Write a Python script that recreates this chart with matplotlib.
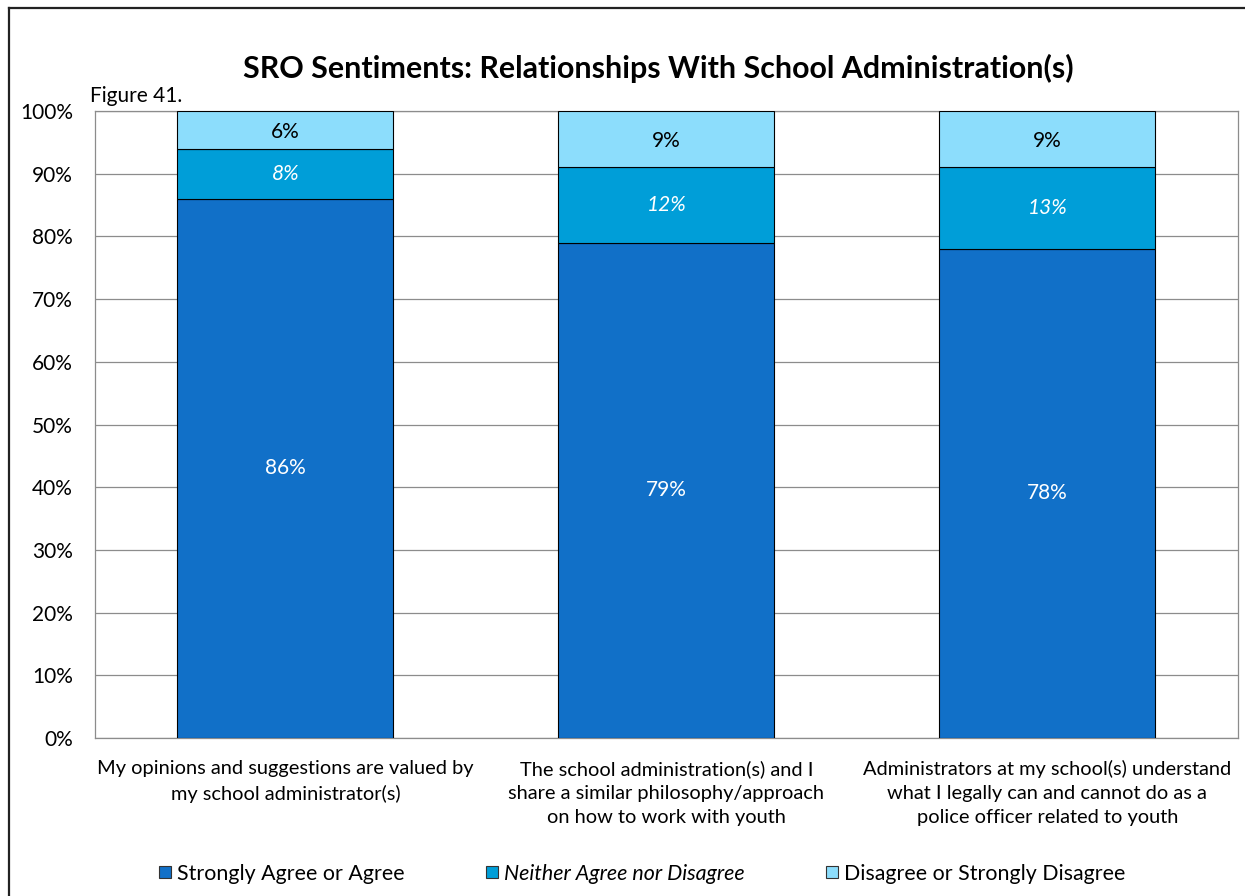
import numpy as np
import matplotlib.pyplot as plt
from matplotlib.patches import Patch
from matplotlib.lines import Line2D

plt.rcParams['font.family'] = ['Lato', 'DejaVu Sans']

categories = ['My opinions and suggestions are valued by\nmy school administrator(s)',
              'The school administration(s) and I\nshare a similar philosophy/approach\non how to work with youth',
              'Administrators at my school(s) understand\nwhat I legally can and cannot do as a\npolice officer related to youth']
agree = [86, 79, 78]
neither = [8, 12, 13]
disagree = [6, 9, 9]
series_names = ['Strongly Agree or Agree', 'Neither Agree nor Disagree', 'Disagree or Strongly Disagree']
colors = ['#1170C8', '#009ED8', '#8CDDFC']

fig = plt.figure(figsize=(12.45, 8.96), dpi=100)
ax = fig.add_axes([0.0763, 0.1763, 0.918, 0.6998])

x = np.arange(len(categories))
w = 0.567
ax.bar(x, agree, w, color=colors[0], edgecolor='black', linewidth=0.8, zorder=3)
ax.bar(x, neither, w, bottom=agree, color=colors[1], edgecolor='black', linewidth=0.8, zorder=3)
bot3 = np.array(agree) + np.array(neither)
ax.bar(x, disagree, w, bottom=bot3, color=colors[2], edgecolor='black', linewidth=0.8, zorder=3)

for i in range(len(categories)):
    ax.text(x[i], agree[i] / 2, f'{agree[i]}%', ha='center', va='center', color='white', fontsize=15)
    ax.text(x[i], agree[i] + neither[i] / 2, f'{neither[i]}%', ha='center', va='center',
            color='white', fontsize=15, style='italic')
    ax.text(x[i], bot3[i] + disagree[i] / 2 - 0.3, f'{disagree[i]}%', ha='center', va='center',
            color='black', fontsize=15)

ax.set_xlim(-0.5, 2.5)
ax.set_ylim(0, 100)
ax.set_yticks(np.arange(0, 101, 10))
ax.set_yticklabels([f'{v}%' for v in range(0, 101, 10)], fontsize=15)
ax.set_xticks(x)
ax.set_xticklabels(categories, fontsize=14.4, linespacing=1.5)
ax.tick_params(length=0, pad=16)
ax.tick_params(axis='y', pad=16)
ax.yaxis.grid(True, color='#8c8c8c', linewidth=0.9, zorder=0)
for s in ax.spines.values():
    s.set_color('#8c8c8c')
    s.set_linewidth(0.9)

fig.text(0.5285, 0.924, 'SRO Sentiments: Relationships With School Administration(s)',
         ha='center', va='center', fontsize=21.9, fontweight='bold')
fig.text(0.072, 0.893, 'Figure 41.', ha='left', va='center', fontsize=15)

handles = [Patch(facecolor=c, edgecolor='#333333', linewidth=0.8) for c in colors]
leg = fig.legend(handles, series_names, loc='center', bbox_to_anchor=(0.516, 0.025), ncol=3,
                 frameon=False, fontsize=15.4, handlelength=0.55, handleheight=0.55,
                 handletextpad=0.3, columnspacing=3.8)
leg.get_texts()[1].set_style('italic')

# chart border
fig.add_artist(Line2D([9/1245, 9/1245], [0, 1 - 8/896], transform=fig.transFigure, color='#222222', linewidth=1.6))
fig.add_artist(Line2D([9/1245, 1], [1 - 8/896, 1 - 8/896], transform=fig.transFigure, color='#222222', linewidth=1.6))

fig.savefig('out.png', dpi=100)
